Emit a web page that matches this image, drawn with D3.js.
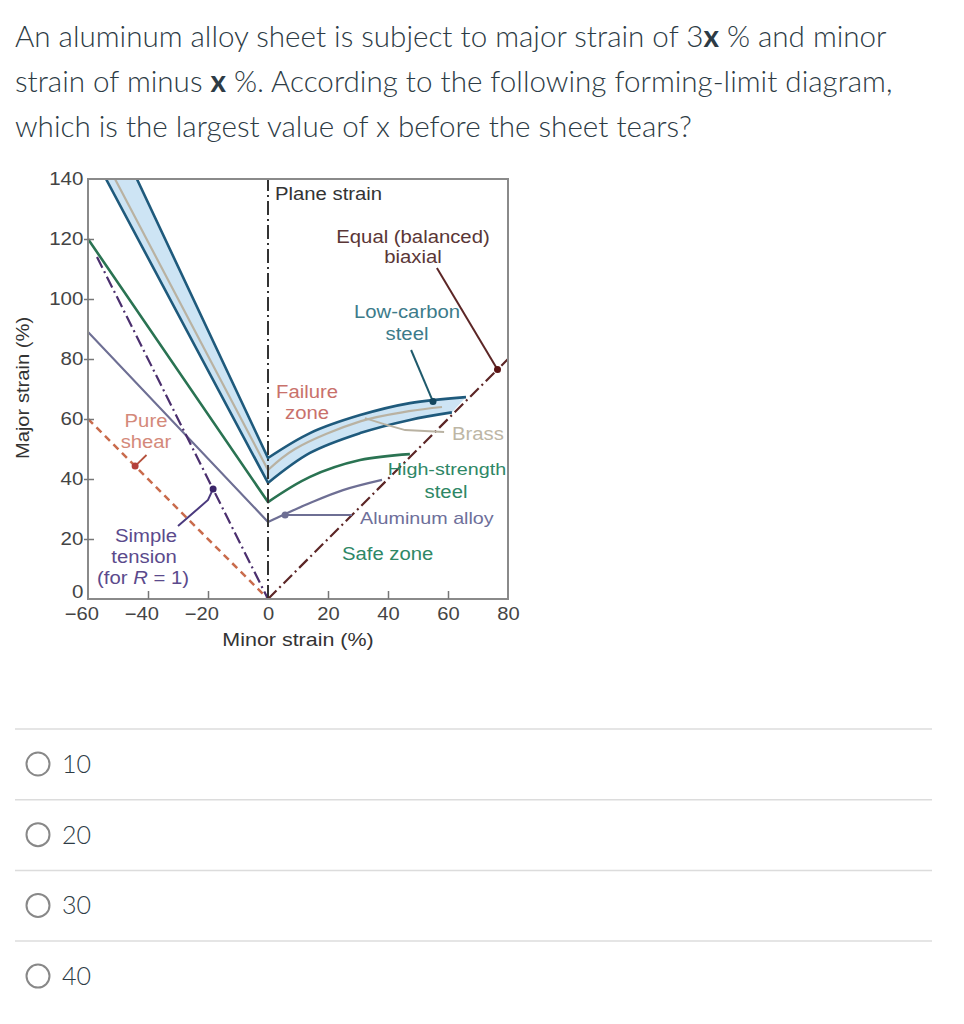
<!DOCTYPE html>
<html>
<head>
<meta charset="utf-8">
<script src="https://cdn.jsdelivr.net/npm/d3@7"></script>
<style>
  body { margin: 0; background: #fff; }
  svg text { font-family: "Liberation Sans", Arial, sans-serif; }
  .question { font-family: Lato, sans-serif; font-size: 29.6px; font-weight: 300; fill: #2d3b45; }
  .option { font-family: Lato, sans-serif; font-size: 25px; font-weight: 300; fill: #2d3b45; }
  .tick text { font-size: 18px; fill: #444; }
  .tick line { stroke: #777; stroke-width: 1.5; }
  .domain { display: none; }
</style>
</head>
<body>
<div id="chart"></div>
<script>
// axis ticks
var minorTicks = [-60, -40, -20, 0, 20, 40, 60, 80];
var majorTicks = [0, 20, 40, 60, 80, 100, 120, 140];

// forming limit curves [minor, major], left branch straight, right branch curved
var bandUpperLeft = [[-43.7, 140], [0, 47]];
var bandUpperRight = [[0, 47], [14, 55.3], [30.7, 61.3], [47.3, 65.3], [66, 67.3]];
var bandLowerLeft = [[-54, 140], [0, 38.7]];
var bandLowerRight = [[0, 38.7], [14, 48.7], [30.7, 55.3], [47.3, 59.7], [61.3, 62.2]];
var brassLeft = [[-51, 140], [0, 43]];
var brassRight = [[0, 43], [9, 50], [31, 59.3], [47, 62.6], [58, 64]];
var hssLeft = [[-60, 120], [0, 32.3]];
var hssRight = [[0, 32.3], [14, 40.7], [30.7, 46.3], [47.3, 48.3]];
var alLeft = [[-60, 89], [0, 25.7]];
var alRight = [[0, 25.7], [5, 28], [14, 32], [25, 36.3], [38, 39.7]];

// strain paths
var pureShear = [[-60, 60], [0, 0]];
var simpleTension = [[-57, 114], [0, 0]];
var planeStrain = [[0, 0], [0, 140]];
var equalBiaxial = [[0, 0], [80, 80]];

// annotation leaders and dots
var pureShearLeader = [[-44.3, 44.3], [-40.5, 48]];
var tensionLeader = [[-18.3, 36.7], [-20, 33], [-30, 24.3]];
var biaxialLeader = [[56.3, 110.3], [76.5, 76.5]];
var lowCarbonLeader = [[47.7, 83], [55, 65.8]];
var brassLeader = [[32.3, 60.3], [38.7, 58.3], [45.7, 56.3], [58.7, 55.7]];
var aluminumLeader = [[5.7, 28], [28, 28]];

var options = ["10", "20", "30", "40"];

var width = 964, height = 1024;
var svg = d3.select("#chart").append("svg")
    .attr("width", width)
    .attr("height", height)

// question text
var q = svg.append("text").attr("class", "question")
q.append("tspan").attr("x", 15).attr("y", 47).text("An aluminum alloy sheet is subject to major strain of 3")
q.append("tspan").style("font-weight", "bold").text("x")
q.append("tspan").text(" % and minor")
q.append("tspan").attr("x", 15).attr("y", 92).text("strain of minus ")
q.append("tspan").style("font-weight", "bold").text("x")
q.append("tspan").text(" %. According to the following forming-limit diagram,")
q.append("tspan").attr("x", 15).attr("y", 137).text("which is the largest value of x before the sheet tears?")

// chart area
var x = d3.scaleLinear().domain([-60, 80]).range([88, 508]);
var y = d3.scaleLinear().domain([0, 140]).range([599, 179]);

var defs = svg.append("defs")
defs.append("clipPath").attr("id", "plot")
    .append("rect")
    .attr("x", x(-60)).attr("y", y(140))
    .attr("width", x(80) - x(-60)).attr("height", y(0) - y(140))

var lin = d3.line().x(function (d) { return x(d[0]) }).y(function (d) { return y(d[1]) })
var crv = d3.line().x(function (d) { return x(d[0]) }).y(function (d) { return y(d[1]) })
    .curve(d3.curveCatmullRom.alpha(0.5))

var plot = svg.append("g").attr("clip-path", "url(#plot)")

// failure band fill
var bandPath = lin(bandUpperLeft)
    + crv(bandUpperRight).replace(/^M/, "L")
    + crv(bandLowerRight.slice().reverse()).replace(/^M/, "L")
    + lin(bandLowerLeft.slice().reverse()).replace(/^M/, "L") + "Z"
plot.append("path").attr("d", bandPath).attr("fill", "#cde4f4")

var drawCurve = function (left, right, color, w) {
    plot.append("path")
        .attr("d", lin(left) + crv(right).replace(/^M/, "L"))
        .attr("fill", "none")
        .attr("stroke", color)
        .attr("stroke-width", w)
        .attr("stroke-linejoin", "round")
}

drawCurve(brassLeft, brassRight, "#b9b2a2", 2.2)
drawCurve(bandUpperLeft, bandUpperRight, "#1f5a7c", 2.6)
drawCurve(bandLowerLeft, bandLowerRight, "#1f5a7c", 2.6)
drawCurve(hssLeft, hssRight, "#2a7352", 2.6)
drawCurve(alLeft, alRight, "#6e6f94", 2.2)

var drawPath = function (pts, color, dash, w) {
    plot.append("path")
        .attr("d", lin(pts))
        .attr("fill", "none")
        .attr("stroke", color)
        .attr("stroke-width", w)
        .attr("stroke-dasharray", dash)
}

drawPath(pureShear, "#c96b4c", "7,5", 2.5)
drawPath(simpleTension, "#4b2f6e", "12,4,2,4", 2.2)
drawPath(planeStrain, "#333", "14,4,2,4", 2)
drawPath(equalBiaxial, "#5c2626", "12,4,2,4", 2.2)

// leaders
drawPath(pureShearLeader, "#b4503c", null, 1.8)
drawPath(tensionLeader, "#4b3a7e", null, 2)
drawPath(biaxialLeader, "#5c2626", null, 2)
drawPath(lowCarbonLeader, "#1f5a6c", null, 2)
drawPath(brassLeader, "#b9b2a2", null, 2)
drawPath(aluminumLeader, "#6e6f94", null, 2)

var dots = [
    [pureShearLeader[0], "#b4403a"],
    [tensionLeader[0], "#3a2468"],
    [biaxialLeader[1], "#5a1414"],
    [lowCarbonLeader[1], "#13465e"],
    [aluminumLeader[0], "#6e6f94"]
]
plot.selectAll(".dot").data(dots).enter().append("circle")
    .attr("cx", function (d) { return x(d[0][0]) })
    .attr("cy", function (d) { return y(d[0][1]) })
    .attr("r", 3.5)
    .attr("fill", function (d) { return d[1] })

// frame
svg.append("rect")
    .attr("x", x(-60)).attr("y", y(140))
    .attr("width", x(80) - x(-60)).attr("height", y(0) - y(140))
    .attr("fill", "none").attr("stroke", "#8a8a8a").attr("stroke-width", 2)

// axes
var xAxis = svg.append("g")
    .attr("transform", "translate(0," + y(0) + ")")
    .call(d3.axisBottom(x).tickValues(minorTicks).tickSizeInner(-8).tickSizeOuter(0).tickPadding(8))
xAxis.selectAll(".tick line").attr("display", function (d) { return (d == -60 || d == 0 || d == 80) ? "none" : null })
xAxis.selectAll(".tick text")
    .attr("dx", function (d) { return d < 0 ? -6 : 0 })
    .attr("transform", "scale(1.12,1)")

var yAxis = svg.append("g")
    .attr("transform", "translate(" + x(-60) + ",0)")
    .call(d3.axisLeft(y).tickValues(majorTicks).tickSizeInner(-6).tickSizeOuter(0).tickPadding(4))
yAxis.selectAll(".tick line").attr("x1", -4).attr("display", function (d) { return (d == 0 || d == 140) ? "none" : null })
yAxis.selectAll(".tick text")
    .attr("transform", "scale(1.14,1)")
    .attr("y", function (d) { return d == 0 ? -7 : 0 })

// labels in the chart
var label = function (txt, px, py, anchor, color, size) {
    return svg.append("text")
        .attr("transform", "translate(" + px + "," + py + ") scale(1.16,1)")
        .attr("text-anchor", anchor)
        .style("font-size", (size || 17.5) + "px")
        .style("fill", color)
        .text(txt)
}

label("Plane strain", 275, 200, "start", "#333")
label("Equal (balanced)", 413, 243, "middle", "#5a3636")
label("biaxial", 413, 263, "middle", "#5a3636")
label("Low-carbon", 407, 318, "middle", "#3c7b8a")
label("steel", 407, 340, "middle", "#3c7b8a")
label("Failure", 276, 398, "start", "#c9716b")
label("zone", 285, 419, "start", "#c9716b")
label("Brass", 452, 440, "start", "#bdb6a5")
label("High-strength", 447, 475, "middle", "#2e8766", 17)
label("steel", 446, 498, "middle", "#2e8766")
label("Aluminum alloy", 360, 524, "start", "#6e6f9a", 17)
label("Safe zone", 342, 560, "start", "#2e8766")
label("Pure", 146, 427, "middle", "#d4897a")
label("shear", 146, 448, "middle", "#d4897a")
label("Simple", 146, 542, "middle", "#5b4a8c")
label("tension", 144, 563, "middle", "#5b4a8c")
var rl = label("", 143, 584, "middle", "#5b4a8c")
rl.append("tspan").text("(for ")
rl.append("tspan").style("font-style", "italic").text("R")
rl.append("tspan").text(" = 1)")

label("Minor strain (%)", 298, 646, "middle", "#333", 18.5)
svg.append("text")
    .attr("transform", "translate(29,388) rotate(-90) scale(1.12,1)")
    .attr("text-anchor", "middle")
    .style("font-size", "18px")
    .style("fill", "#333")
    .text("Major strain (%)")

// answer options
var rowTop = 729, rowH = 70.7
var rows = svg.selectAll(".opt").data(options).enter().append("g")
    .attr("transform", function (d, i) { return "translate(0," + (rowTop + i * rowH) + ")" })
rows.append("line")
    .attr("x1", 15).attr("x2", 932).attr("y1", 0).attr("y2", 0)
    .attr("stroke", "#dcdcdc").attr("stroke-width", 1.5)
rows.append("circle")
    .attr("cx", 38).attr("cy", 35).attr("r", 11.5)
    .attr("fill", "none").attr("stroke", "#888").attr("stroke-width", 2)
rows.append("text").attr("class", "option")
    .attr("x", 62).attr("y", 44)
    .text(function (d) { return d })
</script>
</body>
</html>
